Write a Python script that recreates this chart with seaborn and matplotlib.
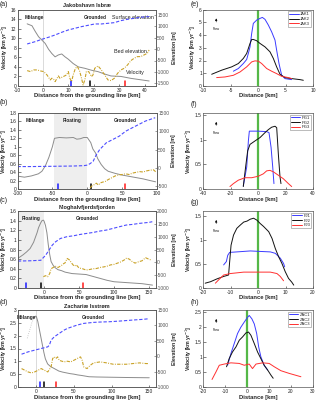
import matplotlib
matplotlib.use('Agg')
import matplotlib.pyplot as plt
import matplotlib.transforms as mtransforms
from matplotlib.ticker import FuncFormatter
import seaborn as sns

sns.set_style('ticks')
plt.rcParams['font.family'] = ['Liberation Sans', 'DejaVu Sans']

# ========= data: left column (along-flow profiles) =========
# (a) Jakobshavn Isbrae
jak_vx = [-6.2, -4.3, -3.0, -1.7, -0.4, 0.9, 2.2, 3.5, 4.8, 6.1, 7.4, 8.7, 10.0, 11.9, 13.9, 16.5,
          19.1, 21.7, 24.3, 26.8, 30.7, 34.6, 38.5, 41.8]
jak_v = [13.0, 12.6, 11.4, 10.3, 9.6, 8.9, 7.7, 6.8, 6.1, 6.5, 6.7, 6.1, 5.6, 4.7, 4.0, 3.7,
         3.3, 3.0, 2.5, 2.1, 2.0, 1.6, 1.3, 1.05]
jak_sx = [-6.2, -3.0, -0.4, 2.2, 4.8, 7.4, 10.0, 12.6, 15.2, 17.8, 20.4, 23.0, 25.6, 28.1, 30.7,
          33.3, 35.9, 38.5, 41.8]
jak_s = [227, 329, 432, 520, 622, 739, 842, 915, 988, 1046, 1105, 1105, 1134, 1163, 1251,
         1310, 1354, 1400, 1430]
jak_bx = [-6.2, -4.9, -3.6, -2.3, -1.0, 0.3, 1.6, 2.9, 3.5, 4.2, 4.8, 6.1, 6.7, 8.0, 9.3, 10.0,
          10.6, 11.3, 11.9, 12.8, 13.6, 14.5, 15.2, 15.8, 16.5, 17.1, 18.0, 19.1, 19.7, 20.4,
          21.7, 23.0, 24.3, 25.6, 26.8, 28.1, 29.4, 30.7, 32.0, 33.3, 34.6, 35.9, 37.2, 38.5,
          39.8, 41.1, 41.8]
jak_b = [-944, -987, -914, -914, -958, -987, -1134, -1353, -1280, -1324, -1427, -1178, -1280,
         -1207, -1134, -987, -1280, -1427, -1134, -841, -768, -987, -1280, -1573, -1353, -987,
         -987, -1207, -1134, -841, -739, -914, -1134, -1353, -1383, -1280, -1061, -914, -841,
         -695, -505, -402, -329, -329, -256, -183, -37]
jak_marks = [11.0, 18.4, 32.3]

# (b) Petermann
pet_vx = [-98, -90, -80, -70, -65, -60, -55, -50, -47, -40, -30, -20, -15, -10, -5, 0, 5, 8,
          12, 15, 20, 25, 30, 40, 50, 60, 70, 80, 90, 98]
pet_v = [0.30, 0.28, 0.31, 0.36, 0.42, 0.55, 0.75, 1.00, 1.20, 1.22, 1.21, 1.22, 1.18, 1.19,
         1.22, 1.22, 1.10, 0.95, 0.85, 0.72, 0.58, 0.48, 0.42, 0.37, 0.33, 0.30, 0.27, 0.24,
         0.20, 0.17]
pet_sx = [-100, -80, -60, -40, -20, -5, 0, 4, 8.4, 13.1, 17.8, 27.2, 36.5, 45.9, 55.3, 64.6,
          74.0, 83.4, 97.4]
pet_s = [30, 30, 35, 40, 45, 55, 70, 110, 175, 360, 499, 685, 777, 870, 1009, 1102, 1194,
         1287, 1380]
pet_bx = [4, 7, 10, 13, 16, 19, 22, 26, 30, 35, 40, 45, 50, 55, 60, 65, 70, 75, 80, 85, 90, 95, 99]
pet_b = [-560, -500, -470, -430, -480, -420, -400, -380, -330, -280, -230, -200, -190, -170,
         -190, -150, -130, -110, -120, -90, -70, -60, -130]
pet_marks = [-42, 6, 54]

# (c) Nioghalvfjerdsfjorden
nio_vx = [-38, -35, -30, -25, -20, -15, -10, -8, -5, -3, -1, 0, 2, 4, 6, 8, 10, 13, 16, 20, 25,
          30, 40, 50, 60, 70, 80, 90, 100, 110, 120, 130, 140, 150, 155]
nio_v = [0.62, 0.64, 0.69, 0.75, 0.82, 0.95, 1.15, 1.25, 1.35, 1.40, 1.41, 1.39, 1.30, 1.15,
         0.90, 0.70, 0.55, 0.47, 0.42, 0.38, 0.36, 0.33, 0.30, 0.29, 0.28, 0.24, 0.20, 0.16,
         0.13, 0.12, 0.11, 0.10, 0.09, 0.07, 0.06]
nio_sx = [-37.5, -20, -4.7, 2.3, 7.0, 11.7, 16.4, 23.4, 32.8, 42.2, 51.6, 60.9, 70.3, 79.7,
          89.1, 98.5, 107.8, 117.2, 126.6, 136.0, 150.0, 154.7]
nio_s = [50, 60, 80, 280, 474, 670, 800, 930, 1000, 1035, 1087, 1126, 1165, 1218, 1257, 1322,
         1387, 1452, 1478, 1517, 1557, 1583]
nio_bx = [-1, 2, 5, 8, 10, 13, 16, 20, 25, 28, 30, 33, 36, 40, 43, 46, 50, 55, 60, 65, 70, 75,
          80, 85, 90, 95, 100, 105, 110, 115, 118, 122, 126, 130, 135, 140, 145, 150, 153]
nio_b = [-560, -520, -560, -440, -250, -200, -150, -200, -120, -50, -20, 150, 100, -50, -150,
         -100, -220, -250, -300, -280, -250, -240, -200, -180, -150, -100, -80, -30, 20, 100,
         170, 120, 30, -30, 20, 60, 180, 120, 90]
nio_marks = [-25.8, -3.8, 56]

# (d) Zachariae Isstrom
zac_vx = [-3, -1, 0, 2, 4, 6, 8, 10, 12, 15, 18, 20, 25, 30, 35, 40, 45, 50, 55, 60, 70, 80,
          100, 120, 150]
zac_v = [2.70, 2.76, 2.75, 2.55, 2.25, 1.95, 1.65, 1.35, 1.10, 0.90, 0.82, 0.78, 0.70, 0.62,
         0.58, 0.55, 0.52, 0.50, 0.47, 0.45, 0.40, 0.39, 0.38, 0.37, 0.36]
zac_mx = [-12, -9, -6, -3]
zac_m = [1.90, 2.20, 2.50, 2.70]
zac_sx = [-19.6, -10.9, -2.2, 6.5, 15.2, 17.4, 19.6, 23.9, 30.4, 37.0, 41.3, 47.8, 54.3, 63.0,
          76.1, 84.8, 97.8, 110.9, 128.3, 141.3, 150.0]
zac_s = [65, 141, 196, 250, 304, 359, 522, 630, 739, 848, 902, 957, 1011, 1065, 1098, 1109,
         1120, 1141, 1174, 1196, 1217]
zac_bx = [-19.6, -15.2, -10.9, -6.5, -2.2, 2.2, 6.5, 10.9, 15.2, 19.6, 21.7, 23.9, 26.1, 28.3,
          30.4, 32.6, 37.0, 41.3, 45.7, 50.0, 54.3, 58.7, 60.9, 63.0, 67.4, 71.7, 76.1, 84.8,
          93.5, 102.2, 110.9, 119.6, 128.3, 137.0, 145.7, 150.0]
zac_b = [-402, -457, -511, -544, -511, -457, -402, -457, -511, -348, -76, -22, -76, -22, -131,
         -152, -185, -163, -185, -131, -76, -22, -131, -348, -402, -294, -217, -185, -217,
         -261, -261, -261, -239, -217, -239, -239]
zac_marks = [4.3, 10, 26]

# ========= data: right column (across-flow profiles) =========
jak1_x = [-4.48, -3.58, -2.67, -2.06, -1.76, -1.45, -1.15, -0.85, -0.24, 0.36, 0.79, 1.27, 1.88,
          2.48, 3.09, 3.39, 3.82, 4.30, 4.91, 6.12]
jak1_v = [1.16, 1.37, 1.76, 2.08, 2.55, 3.07, 4.12, 4.91, 5.17, 5.30, 5.38, 5.23, 4.78, 4.25,
          3.60, 2.81, 1.76, 0.84, 0.58, 0.50]
jak2_x = [-8.42, -6.61, -4.79, -3.58, -2.67, -2.06, -1.45, -1.15, -0.85, -0.24, 0.36, 1.27,
          2.18, 2.79, 3.39, 4.0, 4.91, 6.12, 7.64, 8.24]
jak2_v = [0.92, 1.24, 1.50, 1.76, 2.16, 2.55, 3.34, 3.65, 3.65, 3.55, 3.34, 3.07, 2.68, 2.16,
          1.50, 0.92, 0.66, 0.58, 0.50, 0.45]
jak3_x = [-7.52, -6.0, -4.48, -3.27, -2.06, -1.15, -0.55, 0.06, 0.67, 1.58, 2.48, 3.39, 4.30,
          5.52, 6.12]
jak3_v = [0.66, 0.71, 0.84, 1.10, 1.50, 1.89, 1.97, 1.95, 1.76, 1.37, 1.16, 0.97, 0.76, 0.66,
          0.58]

pg1_x = [-10.7, -8.2, -7.0, -6.3, 0.0, 6.3, 8.0, 9.5, 10.7, 11.6]
pg1_v = [0.06, 0.45, 0.98, 1.18, 1.18, 1.17, 1.15, 0.85, 0.45, 0.11]
pg2_x = [-10.7, -9.0, -7.5, -5.8, -2.2, 1.5, 5.1, 7.5, 9.9, 12.4, 13.6, 14.8, 16.0, 16.7]
pg2_v = [0.05, 0.45, 0.78, 0.91, 0.98, 1.05, 1.15, 1.21, 1.26, 1.28, 1.25, 0.71, 0.25, 0.11]
pg3_x = [-20.4, -17.9, -14.3, -9.5, -4.6, 0.2, 3.9, 6.3, 8.7, 11.2, 14.8, 18.4, 22.1, 24.5]
pg3_v = [0.05, 0.11, 0.18, 0.23, 0.23, 0.26, 0.31, 0.37, 0.38, 0.35, 0.28, 0.21, 0.11, 0.05]

fj1_x = [-12.5, -11.5, -11.0, -10.3, -7.7, -2.8, 0.8, 4.5, 6.3, 8.1, 9.3, 9.7]
fj1_v = [0.48, 0.55, 0.68, 0.74, 0.75, 0.77, 0.76, 0.75, 0.72, 0.62, 0.51, 0.44]
fj2_x = [-19.2, -17.3, -14.9, -12.5, -10.7, -10.3, -9.8, -8.9, -7.7, -6.4, -5.2, -4.0, -2.8,
         -1.6, -0.4, 0.8, 2.0, 3.9, 5.1, 6.3, 7.5, 8.7, 9.9, 11.1, 12.3, 13.0]
fj2_v = [0.10, 0.13, 0.19, 0.24, 0.27, 0.55, 0.89, 1.10, 1.24, 1.31, 1.37, 1.39, 1.43, 1.45,
         1.41, 1.34, 1.28, 1.17, 1.03, 0.82, 0.65, 0.51, 0.34, 0.20, 0.12, 0.06]
fj3_x = [-15.5, -14.3, -12.5, -10.1, -5.2, 0.0, 4.5, 6.9, 8.1, 9.3]
fj3_v = [0.10, 0.17, 0.27, 0.30, 0.33, 0.33, 0.33, 0.30, 0.24, 0.15]

zac1_x = [-8.8, -7.3, -5.8, -4.3, -2.8, -1.25, 0.3, 1.0, 2.2, 3.3, 4.4, 5.3, 6.3, 7.8, 9.4]
zac1_v = [0.72, 1.11, 1.44, 1.77, 1.98, 2.15, 2.31, 2.37, 2.26, 2.09, 1.77, 1.33, 1.00, 0.72,
          0.56]
zac2_x = [-9.3, -8.1, -6.6, -5.0, -3.5, -2.0, -0.5, 0.7, 1.8, 3.3, 4.8, 6.3, 7.8, 9.4, 10.9, 11.9]
zac2_v = [0.67, 0.94, 1.16, 1.33, 1.55, 1.66, 1.79, 1.82, 1.71, 1.44, 1.16, 0.94, 0.72, 0.56,
          0.39, 0.29]
zac3_x = [-15.9, -14.1, -12.6, -10.3, -7.3, -3.5, -1.25, 1.0, 2.5, 4.1, 7.1, 10.1, 12.4, 15.4,
          19.2, 24.5]
zac3_v = [0.25, 0.50, 0.72, 0.76, 0.80, 0.78, 0.72, 0.76, 0.61, 0.76, 0.80, 0.78, 0.67, 0.54,
          0.45, 0.34]

# ========= figure =========
W, H = 320, 401
fig = plt.figure(figsize=(W / 100, H / 100), dpi=100)
fmt = FuncFormatter(lambda v, p: f'{v:g}')
tick_fs, ylab_fs, xlab_fs, title_fs = 3.5, 3.7, 4.2, 4.0
frame_c = '#555555'


def box(l, t, r, b):
    return [l / W, 1 - b / H, (r - l) / W, (b - t) / H]


def style_axes(ax):
    for s in ax.spines.values():
        s.set_linewidth(0.5)
        s.set_color(frame_c)
    ax.tick_params(direction='in', length=1.8, width=0.4, labelsize=tick_fs, pad=0.8,
                   colors='#222222')
    ax.tick_params(axis='x', pad=1.6)
    ax.xaxis.set_major_formatter(fmt)
    ax.yaxis.set_major_formatter(fmt)


def left_panel(pos, title, vel, surf, bed, xlim, xt, vlim, vt, elim, et, marks, zones,
               shade=None, gl=False, extra=None):
    ax = fig.add_axes(box(*pos))
    if shade is not None:
        ax.axvspan(shade[0], shade[1], color='#eeeeee', lw=0, zorder=0)
    if gl:
        ax.axvline(0, color='#d5d5d5', lw=0.6, zorder=0)
    if extra is not None:
        sns.lineplot(x=extra[0], y=extra[1], ax=ax, color='#bbbbbb', lw=0.6, linestyle=':',
                     estimator=None, sort=False)
    sns.lineplot(x=vel[0], y=vel[1], ax=ax, color='#8c8c8c', lw=0.7, estimator=None, sort=False)
    for xm, c in zip(marks, ['#1a1aff', 'black', '#ff1a1a']):
        ax.axvline(xm, ymin=0, ymax=0.07, color=c, lw=1.1)
    ax.set(xlim=xlim, ylim=vlim, xticks=xt, yticks=vt)
    style_axes(ax)
    ax.set_ylabel('Velocity [km yr$^{-1}$]', fontsize=ylab_fs, fontweight='bold', labelpad=0.3)
    ax.set_xlabel('Distance from the grounding line [km]', fontsize=xlab_fs,
                  fontweight='bold', labelpad=0.2)
    ax.set_title(title, fontsize=title_fs, fontweight='bold', pad=1.5)
    trans = mtransforms.blended_transform_factory(ax.transData, ax.transAxes)
    for zx, zt in zones:
        ax.text(zx, 0.9, zt, transform=trans, fontsize=3.4, fontweight='bold', ha='center',
                va='center', color='#222222')

    ax2 = ax.twinx()
    sns.lineplot(x=surf[0], y=surf[1], ax=ax2, color='#4d4dff', lw=0.8,
                 linestyle=(0, (3, 1.6)), estimator=None, sort=False)
    sns.lineplot(x=bed[0], y=bed[1], ax=ax2, color='#c9a227', lw=0.8,
                 linestyle=(0, (3, 1.2, 0.8, 1.2)), estimator=None, sort=False)
    ax2.set(ylim=elim, yticks=et)
    style_axes(ax2)
    ax2.tick_params(colors='#555555')
    ax2.set_ylabel('Elevation [m]', fontsize=ylab_fs, fontweight='bold', labelpad=1.5)
    return ax, ax2


def right_panel(pos, xlim, xt, ylim, yt, series, names):
    ax = fig.add_axes(box(*pos))
    ax.axvline(0, color='#55b848', lw=1.6, zorder=1)
    for (sx, sy), nm, c in zip(series, names, ['#3b3bff', '#111111', '#ff3030']):
        sns.lineplot(x=sx, y=sy, ax=ax, color=c, lw=0.7, label=nm, estimator=None, sort=False)
    ax.set(xlim=xlim, ylim=ylim, xticks=xt, yticks=yt)
    style_axes(ax)
    ax.set_ylabel('Velocity [km yr$^{-1}$]', fontsize=ylab_fs, fontweight='bold', labelpad=1)
    ax.set_xlabel('Distance [km]', fontsize=xlab_fs, fontweight='bold', labelpad=0.2)
    leg = ax.legend(loc='upper right', fontsize=3, handlelength=2.2, handletextpad=0.4,
                    borderpad=0.3, labelspacing=0.15, borderaxespad=0.4, fancybox=False,
                    framealpha=1)
    leg.get_frame().set_linewidth(0.4)
    leg.get_frame().set_edgecolor('#888888')
    ax.annotate('', xy=(0.12, 0.92), xytext=(0.12, 0.8), xycoords='axes fraction',
                arrowprops=dict(arrowstyle='-|>', lw=0.4, color='k', mutation_scale=3))
    ax.text(0.12, 0.74, 'Flow', transform=ax.transAxes, fontsize=2.4, ha='center', va='center')
    return ax


# (a)
ax_a, ax_a2 = left_panel((17.5, 9.5, 156, 86), 'Jakobshavn Isbræ', (jak_vx, jak_v),
                         (jak_sx, jak_s), (jak_bx, jak_b), (-10, 44.5), range(-10, 41, 10),
                         (0, 16), range(0, 17, 2), (-1620, 1740), range(-1500, 1501, 500),
                         jak_marks, [(-3.5, 'Mélange'), (20.4, 'Grounded')], gl=True)
trans_a = mtransforms.blended_transform_factory(ax_a.transData, ax_a.transAxes)
ax_a.text(35.5, 0.9, 'Surface elevation', transform=trans_a, fontsize=3.9, ha='center',
          va='center', color='#222222')
ax_a.text(34.6, 0.45, 'Bed elevation', transform=trans_a, fontsize=3.9, ha='center',
          va='center', color='#222222')
ax_a.text(36.2, 0.17, 'Velocity', transform=trans_a, fontsize=3.9, ha='center', va='center',
          color='#222222')

# (b)
left_panel((17.5, 113, 157, 189), 'Petermann', (pet_vx, pet_v), (pet_sx, pet_s),
           (pet_bx, pet_b), (-100, 100), range(-100, 101, 50), (0, 1.8),
           [0, 0.2, 0.4, 0.6, 0.8, 1, 1.2, 1.4, 1.6, 1.8], (-590, 1510),
           range(-500, 1501, 500), pet_marks,
           [(-75, 'Mélange'), (-22, 'Floating'), (55, 'Grounded')], shade=(-48, 0))

# (c)
left_panel((17.5, 211, 156, 288), 'Nioghalvfjerdsfjorden', (nio_vx, nio_v), (nio_sx, nio_s),
           (nio_bx, nio_b), (-38, 160), range(0, 151, 50), (0, 1.6),
           [0, 0.2, 0.4, 0.6, 0.8, 1, 1.2, 1.4, 1.6], (-1000, 2000),
           range(-1000, 2001, 500), nio_marks,
           [(-19, 'Floating'), (62, 'Grounded')], shade=(-38, 0))

# (d)
left_panel((17.5, 310, 156, 387), 'Zachariæ Isstrøm', (zac_vx, zac_v), (zac_sx, zac_s),
           (zac_bx, zac_b), (-25, 159), range(0, 151, 50), (0, 3),
           [0, 0.5, 1, 1.5, 2, 2.5, 3], (-1000, 1500), range(-1000, 1501, 500), zac_marks,
           [(-13, 'Mélange'), (75, 'Grounded')], gl=True, extra=(zac_mx, zac_m))

# (e)-(h)
right_panel((203, 9.5, 313, 86), (-10, 10), range(-10, 11, 5), (0, 6), range(0, 7),
            [(jak1_x, jak1_v), (jak2_x, jak2_v), (jak3_x, jak3_v)], ['JAK1', 'JAK2', 'JAK3'])
right_panel((203, 113, 313, 189), (-40, 40), range(-40, 41, 20), (0, 1.55), [0, 0.5, 1, 1.5],
            [(pg1_x, pg1_v), (pg2_x, pg2_v), (pg3_x, pg3_v)], ['PG1', 'PG2', 'PG3'])
right_panel((203, 211, 313, 288), (-20, 20), range(-20, 21, 10), (0, 1.6), [0, 0.5, 1, 1.5],
            [(fj1_x, fj1_v), (fj2_x, fj2_v), (fj3_x, fj3_v)], ['FJ1', 'FJ2', 'FJ3'])
right_panel((203, 310, 313, 387), (-20, 30), range(-20, 31, 10), (0, 2.55),
            [0, 0.5, 1, 1.5, 2, 2.5],
            [(zac1_x, zac1_v), (zac2_x, zac2_v), (zac3_x, zac3_v)], ['ZAC1', 'ZAC2', 'ZAC3'])

# panel letters
for lt, px, py in [('(a)', 0, 5), ('(b)', 0, 103), ('(c)', 0, 200), ('(d)', 0, 302),
                   ('(e)', 191, 4.5), ('(f)', 191, 104), ('(g)', 191, 202), ('(h)', 191, 303)]:
    fig.text(px / W, 1 - py / H, lt, fontsize=5.0, ha='left', va='center')

fig.savefig('out.png', dpi=100)
